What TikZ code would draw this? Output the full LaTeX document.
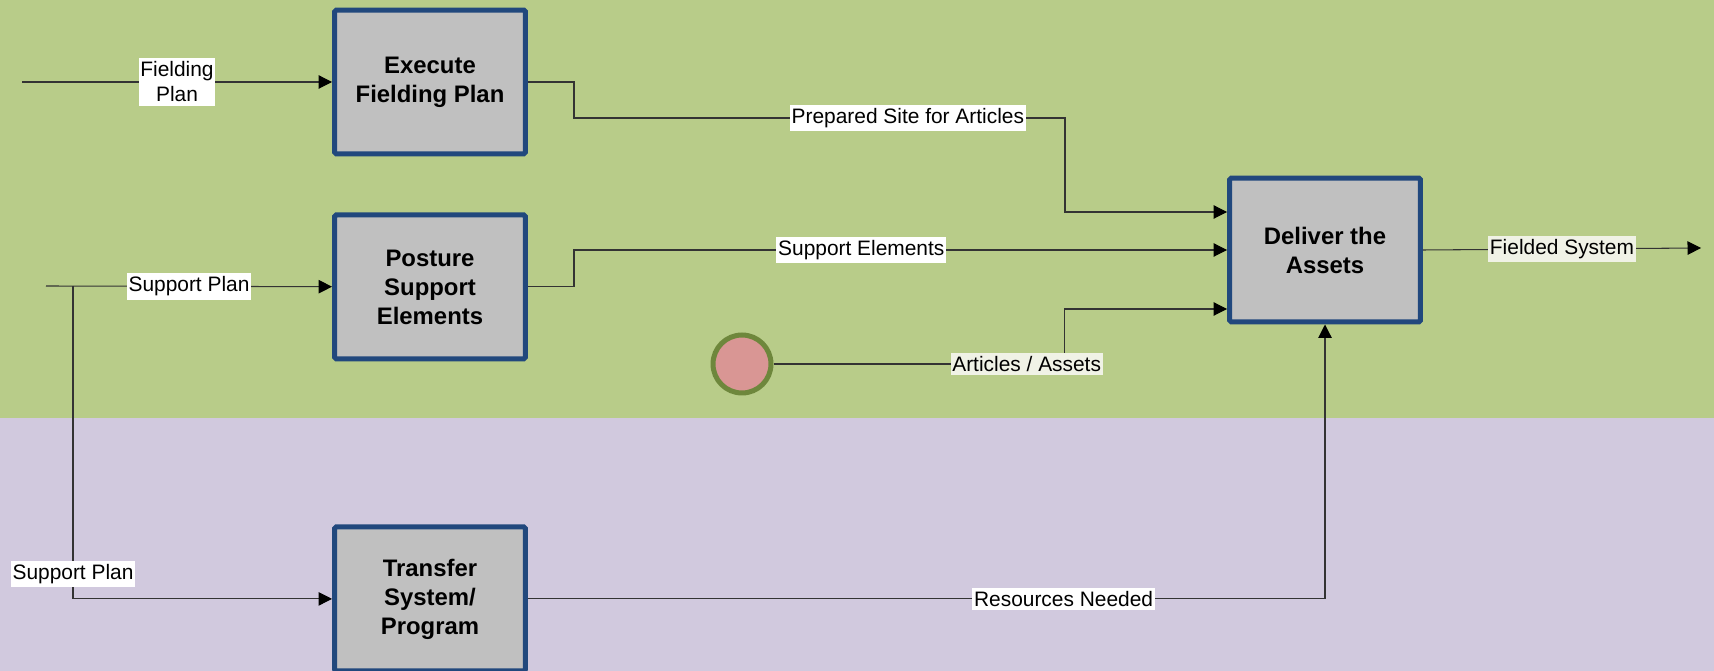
\documentclass[tikz,border=0pt]{standalone}
\usepackage{fontspec}
\setmainfont{Liberation Sans}
\usepackage{xcolor}
\usetikzlibrary{arrows.meta, positioning, calc}

\definecolor{bggreen}{RGB}{184,204,137}
\definecolor{bgpurple}{RGB}{209,201,222}
\definecolor{boxblue}{RGB}{33,72,125}
\definecolor{boxgray}{RGB}{192,192,192}
\definecolor{dotfill}{RGB}{217,150,148}
\definecolor{dotedge}{RGB}{110,135,60}
\definecolor{cream}{RGB}{240,242,230}

\begin{document}
\begin{tikzpicture}[x=0.02cm, y=-0.02cm, >={Triangle[length=0.27cm, width=0.27cm, color=black]},
    procbox/.style={draw=boxblue, line width=0.1cm, fill=boxgray, rounded corners=1pt, minimum width=3.82cm, minimum height=2.88cm, align=center, font=\fontsize{13.6}{16.5}\selectfont\bfseries},
    srcdot/.style={circle, draw=dotedge, line width=0.1cm, fill=dotfill, minimum size=1.16cm, inner sep=0pt},
    flow/.style={draw=black!80, line width=0.6pt},
    flowlabel/.style={fill=white, inner xsep=1pt, inner ysep=2pt, font=\fontsize{11.9}{14.2}\selectfont}]
    \useasboundingbox (0,0) rectangle (1714,671);
    \fill[bggreen] (0,0) rectangle (1714,418);
    \fill[bgpurple] (0,418) rectangle (1714,671);

    \node[procbox] (execute) at (430,82) {Execute\\Fielding Plan};
    \node[procbox, below=1.12cm of execute] (posture) {Posture\\Support\\Elements};
    \node[procbox, below=3.26cm of posture] (transfer) {Transfer\\System/\\Program};
    \node[procbox] (deliver) at (1325,250) {Deliver the\\Assets};
    \node[srcdot] (articles) at (742,364) {};

    \coordinate (fpin) at (22,82);
    \coordinate (spin) at (46,286);
    \coordinate (spsplit) at (73,286);
    \coordinate (fsout) at (1701,248);

    \draw[flow, ->] (fpin) -- node[flowlabel, align=center] {Fielding\\Plan} (execute);
    \draw[flow, ->] (spin) -- node[flowlabel] {Support Plan} (posture);
    \draw[flow, ->] (spsplit) |- node[flowlabel, pos=0.46] {Support Plan} (transfer);

    \draw[flow, ->] (execute.east) -- ++(46,0) -- ++(0,36) -- node[flowlabel, pos=0.68] {Prepared Site for Articles} ++(491,0) |- ($(deliver.west)+(0,-38)$);
    \draw[flow, ->] (posture.east) -- ++(46,0) |- node[flowlabel, pos=0.72] {Support Elements} (deliver.west);
    \draw[flow, ->] (articles.east) -- node[flowlabel, fill=cream, pos=0.87] {Articles / Assets} ++(291,0) |- ($(deliver.west)+(0,59)$);
    \draw[flow, ->] (transfer.east) -| node[flowlabel, pos=0.336] {Resources Needed} (deliver.south);

    \draw[flow, ->] (deliver.east) -- node[flowlabel, fill=cream] {Fielded System} (fsout);
\end{tikzpicture}
\end{document}
